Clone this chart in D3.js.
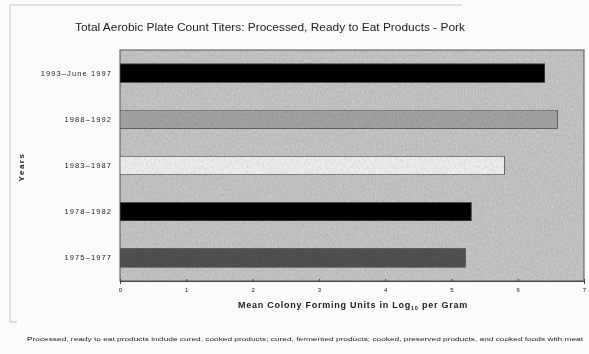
<!DOCTYPE html>
<html>
<head>
<meta charset="utf-8">
<script src="https://cdn.jsdelivr.net/npm/d3@7"></script>
<style>
  html, body { margin: 0; padding: 0; background: #fbfbfb; }
  svg { display: block; }
  text { font-family: Arial, "Liberation Sans", sans-serif; fill: #222; }
</style>
</head>
<body>
<svg id="chart" width="589" height="354"></svg>
<script>
// Periods, top to bottom
const periods = ["1993–June 1997", "1988–1992", "1983–1987", "1978–1982", "1975–1977"];
// Mean log10 CFU per gram for each period
const meanLogCFU = [6.41, 6.60, 5.80, 5.30, 5.21];
// Bar fills for each period
const barFills = ["#0b0b0b", "#a9a9a9", "#f6f6f6", "#101010", "#555555"];
const xTicks = [0, 1, 2, 3, 4, 5, 6, 7];

const titleText = "Total Aerobic Plate Count Titers:  Processed, Ready to Eat Products - Pork";
const xTitle = "Mean Colony Forming Units in Log";
const footnote = "Processed, ready to eat products include cured, cooked products; cured, fermented products; cooked, preserved products, and cooked foods with meat";

const svg = d3.select("#chart");

const plot = { left: 120, right: 584, top: 50, bottom: 281 };

const x = d3.scaleLinear().domain([0, 7]).range([plot.left, plot.right]);
const y = d3.scaleBand().domain(periods).range([plot.top, plot.bottom]).paddingInner(0.6).paddingOuter(0.3);

// grain texture for plot background and bars
const defs = svg.append("defs");
const grain = defs.append("filter").attr("id", "grain").attr("x", 0).attr("y", 0).attr("width", 1).attr("height", 1);
grain.append("feTurbulence").attr("type", "fractalNoise").attr("baseFrequency", "0.9 0.35").attr("numOctaves", 2).attr("seed", 4).attr("result", "noise");
grain.append("feColorMatrix").attr("in", "noise").attr("type", "matrix")
  .attr("values", "0 0 0 0 0  0 0 0 0 0  0 0 0 0 0  0 0 0 0.35 -0.05").attr("result", "dots");
grain.append("feComposite").attr("in", "dots").attr("in2", "SourceGraphic").attr("operator", "in").attr("result", "clipped");
const merge = grain.append("feMerge");
merge.append("feMergeNode").attr("in", "SourceGraphic");
merge.append("feMergeNode").attr("in", "clipped");

const soft = defs.append("filter").attr("id", "soft");
soft.append("feGaussianBlur").attr("stdDeviation", 0.45);

const root = svg.append("g").attr("filter", "url(#soft)");

// faint outer frame
root.append("path")
  .attr("d", "M10,322 L10,5 L462,5")
  .attr("fill", "none").attr("stroke", "#c8c8c8").attr("stroke-width", 1);
root.append("path")
  .attr("d", "M10,322 L17,322")
  .attr("fill", "none").attr("stroke", "#bdbdbd").attr("stroke-width", 1);

// title
root.append("text")
  .attr("x", 270).attr("y", 31)
  .attr("text-anchor", "middle")
  .attr("font-size", 11)
  .attr("textLength", 390)
  .attr("lengthAdjust", "spacingAndGlyphs")
  .text(titleText);

// plot background
root.append("rect")
  .attr("x", plot.left).attr("y", plot.top)
  .attr("width", plot.right - plot.left).attr("height", plot.bottom - plot.top)
  .attr("fill", "#cbcbcb")
  .attr("filter", "url(#grain)");
root.append("rect")
  .attr("x", plot.left).attr("y", plot.top)
  .attr("width", plot.right - plot.left).attr("height", plot.bottom - plot.top)
  .attr("fill", "none").attr("stroke", "#555").attr("stroke-width", 1);

// bars
root.append("g").selectAll("rect")
  .data(periods)
  .join("rect")
  .attr("x", x(0))
  .attr("y", d => y(d))
  .attr("width", (d, i) => x(meanLogCFU[i]) - x(0))
  .attr("height", y.bandwidth())
  .attr("fill", (d, i) => barFills[i])
  .attr("stroke", "#555")
  .attr("stroke-width", 0.8)
  .attr("filter", "url(#grain)");

// x axis
const xAxis = root.append("g")
  .attr("transform", `translate(0,${plot.bottom})`)
  .call(d3.axisBottom(x).tickValues(xTicks).tickSize(3).tickFormat(d3.format("d")));
xAxis.select(".domain").attr("stroke", "#444");
xAxis.selectAll(".tick line").attr("stroke", "#444").attr("transform", "translate(0,-2)");
xAxis.selectAll(".tick text").attr("font-size", 6).attr("dy", "0.9em").attr("fill", "#333")
  .attr("font-family", "Arial, 'Liberation Sans', sans-serif");

// y axis
const yAxis = root.append("g")
  .attr("transform", `translate(${plot.left},0)`)
  .call(d3.axisLeft(y).tickSize(0).tickPadding(8));
yAxis.select(".domain").remove();
yAxis.selectAll(".tick text").attr("font-size", 7.5).attr("fill", "#333")
  .attr("letter-spacing", 1.1)
  .attr("font-family", "Arial, 'Liberation Sans', sans-serif");

// axis titles
const xt = root.append("text")
  .attr("x", 353).attr("y", 308)
  .attr("text-anchor", "middle")
  .attr("font-size", 9)
  .attr("font-weight", "bold")
  .attr("letter-spacing", 0.75)
  .attr("fill", "#333");
xt.append("tspan").text(xTitle);
xt.append("tspan").attr("font-size", 5.5).attr("dy", 2).text("10");
xt.append("tspan").attr("dy", -2).text(" per Gram");

root.append("text")
  .attr("transform", "translate(24,167) rotate(-90)")
  .attr("text-anchor", "middle")
  .attr("font-size", 8)
  .attr("font-weight", "bold")
  .attr("letter-spacing", 1.5)
  .attr("fill", "#333")
  .text("Years");

// footnote
root.append("text")
  .attr("x", 305).attr("y", 341)
  .attr("text-anchor", "middle")
  .attr("font-size", 5.6)
  .attr("textLength", 556)
  .attr("lengthAdjust", "spacingAndGlyphs")
  .attr("fill", "#333")
  .text(footnote);
</script>
</body>
</html>
